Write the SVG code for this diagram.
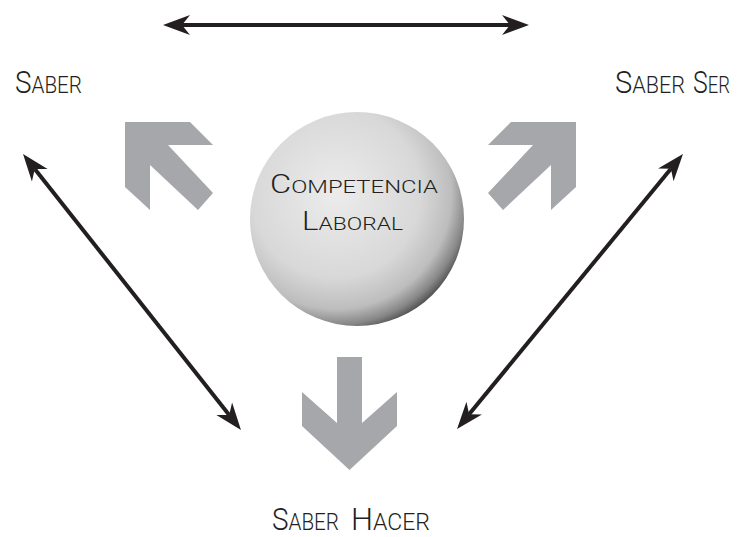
<svg xmlns="http://www.w3.org/2000/svg" width="739" height="537" viewBox="0 0 739 537">
  <style>
    .lbl { font-family: Roboto, "Liberation Sans", Arial, sans-serif; font-weight: 300; fill: #231f20; }
    .big { font-size: 31px; }
    .sm { font-size: 23px; }
    .cbig { font-size: 26px; }
    .csm { font-size: 19px; }
    .conn { stroke: #231f20; stroke-width: 4; fill: none; marker-start: url(#ah); marker-end: url(#ah); }
    .garrow { fill: #a6a7aa; }
  </style>
  <defs>
    <marker id="ah" markerUnits="userSpaceOnUse" markerWidth="30" markerHeight="24" viewBox="0 -12 30 24" refX="8" refY="0" orient="auto-start-reverse">
      <path d="M0,-10 L27,0 L0,10 L8,0 Z" fill="#231f20"/>
    </marker>
    <radialGradient id="sphere" cx="0.4" cy="0.38" r="0.66">
      <stop offset="0" stop-color="#ececec"/>
      <stop offset="0.6" stop-color="#d8d8d9"/>
      <stop offset="0.82" stop-color="#bdbdbe"/>
      <stop offset="0.93" stop-color="#878788"/>
      <stop offset="1" stop-color="#4d4d4e"/>
    </radialGradient>
  </defs>

  <g id="connectors">
    <line class="conn" x1="182" y1="25" x2="510" y2="25"/>
    <line class="conn" x1="34.8" y1="168.9" x2="229.2" y2="415.1"/>
    <line class="conn" x1="670.9" y1="168.7" x2="469.1" y2="414.3"/>
  </g>

  <g id="arrow-saber">
    <polygon class="garrow" points="125,122 190,122 213,145 168,145 213,193 198,210 150,165 150,210 125,187"/>
  </g>
  <g id="arrow-saber-ser">
    <polygon class="garrow" points="576,122 511,122 488,145 533,145 488,193 503,210 551,165 551,210 576,187"/>
  </g>
  <g id="arrow-saber-hacer">
    <polygon class="garrow" points="337,357 362,357 362,423 397,392 397,426 349.5,470 302,426 302,392 337,423"/>
  </g>

  <g id="competencia-laboral">
    <circle cx="357" cy="219" r="107" fill="url(#sphere)"/>
    <text class="lbl" x="270" y="193" textLength="168" lengthAdjust="spacingAndGlyphs"><tspan class="cbig">C</tspan><tspan class="csm">OMPETENCIA</tspan></text>
    <text class="lbl" x="302" y="230" textLength="101" lengthAdjust="spacingAndGlyphs"><tspan class="cbig">L</tspan><tspan class="csm">ABORAL</tspan></text>
  </g>

  <g id="saber">
    <text class="lbl" x="15" y="93" textLength="67" lengthAdjust="spacingAndGlyphs"><tspan class="big">S</tspan><tspan class="sm">ABER</tspan></text>
  </g>
  <g id="saber-ser">
    <text class="lbl" x="615" y="93" textLength="70" lengthAdjust="spacingAndGlyphs"><tspan class="big">S</tspan><tspan class="sm">ABER</tspan></text>
    <text class="lbl" transform="translate(693,93) scale(0.8,1)"><tspan class="big">S</tspan><tspan class="sm">ER</tspan></text>
  </g>
  <g id="saber-hacer">
    <text class="lbl" x="272" y="530" textLength="67" lengthAdjust="spacingAndGlyphs"><tspan class="big">S</tspan><tspan class="sm">ABER</tspan></text>
    <text class="lbl" x="351" y="530" textLength="79" lengthAdjust="spacingAndGlyphs"><tspan class="big">H</tspan><tspan class="sm">ACER</tspan></text>
  </g>
</svg>
